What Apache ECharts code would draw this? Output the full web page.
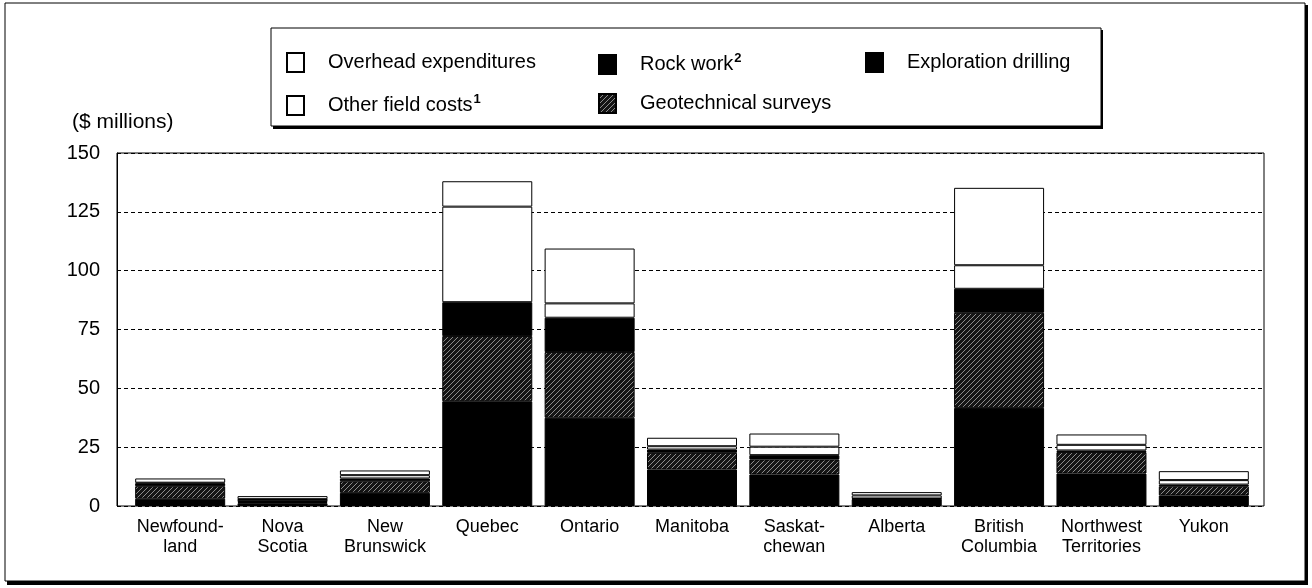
<!DOCTYPE html>
<html>
<head>
<meta charset="utf-8">
<script src="https://cdn.jsdelivr.net/npm/echarts@6/dist/echarts.min.js"></script>
<style>
  html, body { margin: 0; padding: 0; background: #fff; }
  #chart { width: 1312px; height: 588px; }
</style>
</head>
<body>
<div id="chart"></div>
<script>
// Exploration expenditures by province/territory, $ millions
const provinces = [
  "Newfound-\nland", "Nova\nScotia", "New\nBrunswick", "Quebec", "Ontario", "Manitoba",
  "Saskat-\nchewan", "Alberta", "British\nColumbia", "Northwest\nTerritories", "Yukon"
];
const explorationDrilling = [3.1, 1.2, 5.6, 44.5, 37.5, 15.5, 13.4, 2.8, 41.7, 13.8, 4.5];
const geotechnicalSurveys = [5.3, 0.5, 4.9, 27.7, 27.9, 7.1, 6.4, 0.2, 40.4, 9.1, 3.9];
const rockWork = [1.2, 1.0, 1.2, 14.4, 14.6, 1.4, 1.8, 0.2, 10.2, 0.7, 0.7];
const otherFieldCosts = [0.3, 0.2, 1.4, 40.6, 6.1, 1.4, 3.6, 1.3, 10.0, 2.4, 1.9];
const overheadExpenditures = [1.8, 1.3, 2.0, 10.8, 23.3, 3.6, 5.6, 1.4, 32.9, 4.4, 3.8];
const yTicks = [0, 25, 50, 75, 100, 125, 150];
const footnotes = { "Rock work": "2", "Other field costs": "1" };

const FONT = "'Liberation Sans', Arial, Helvetica, sans-serif";

function hatchPattern() {
  const c = document.createElement("canvas");
  c.width = 5;
  c.height = 5;
  const ctx = c.getContext("2d");
  ctx.fillStyle = "#151515";
  ctx.fillRect(0, 0, 5, 5);
  ctx.strokeStyle = "#8c8c8c";
  ctx.lineWidth = 1;
  ctx.beginPath();
  ctx.moveTo(0, 5);
  ctx.lineTo(5, 0);
  ctx.stroke();
  return { image: c, repeat: "repeat" };
}

const chart = echarts.init(document.getElementById("chart"), null, { renderer: "canvas" });

function barSeries(name, data, color) {
  return {
    name,
    type: "bar",
    stack: "total",
    data,
    xAxisIndex: 1,
    yAxisIndex: 1,
    barWidth: 90,
    itemStyle: { color, borderColor: "#000", borderWidth: 1 },
    emphasis: { disabled: true },
    animation: false
  };
}

const legendSpots = [
  { name: "Overhead expenditures", left: 286, top: 52 },
  { name: "Rock work", left: 598, top: 52 },
  { name: "Exploration drilling", left: 865, top: 52 },
  { name: "Other field costs", left: 286, top: 93 },
  { name: "Geotechnical surveys", left: 598, top: 93 }
];

const option = {
  backgroundColor: "#fff",
  animation: false,
  textStyle: { fontFamily: FONT, color: "#000" },
  title: {
    text: "($ millions)",
    left: 72,
    top: 112,
    padding: 0,
    textStyle: { fontFamily: FONT, fontSize: 21, fontWeight: "normal", color: "#000" }
  },
  graphic: [
    { type: "rect", shape: { x: 5, y: 3, width: 1300, height: 578 }, style: { fill: null, stroke: "#000", lineWidth: 1 } },
    { type: "rect", shape: { x: 7, y: 581, width: 1301, height: 4 }, style: { fill: "#000" } },
    { type: "rect", shape: { x: 1305, y: 5, width: 3, height: 580 }, style: { fill: "#000" } },
    { type: "rect", shape: { x: 271, y: 28, width: 830, height: 98 }, style: { fill: "#fff", stroke: "#000", lineWidth: 1 }, z: -1 },
    { type: "rect", shape: { x: 273, y: 126, width: 830, height: 3 }, style: { fill: "#000" } },
    { type: "rect", shape: { x: 1101, y: 30, width: 2, height: 99 }, style: { fill: "#000" } }
  ],
  legend: legendSpots.map((s) => ({
    data: [s.name],
    left: s.left,
    top: s.top,
    padding: 0,
    icon: "rect",
    itemWidth: 17,
    itemHeight: 19,
    selectedMode: false,
    formatter: (name) => footnotes[name] ? `{a|${name}}{s|${footnotes[name]}}` : `{a|${name}}`,
    textStyle: {
      fontFamily: FONT,
      fontSize: 20,
      color: "#000",
      padding: [0, 0, 0, 19],
      rich: {
        a: { fontFamily: FONT, fontSize: 20, lineHeight: 24, color: "#000" },
        s: { fontFamily: FONT, fontSize: 13, fontWeight: "bold", lineHeight: 10, padding: [0, 0, 12, 1], color: "#000" }
      }
    }
  })),
  grid: [
    { left: 117, right: 48, top: 153, bottom: 82, show: true, borderColor: "#000", borderWidth: 1, backgroundColor: "transparent" },
    { left: 129, right: 57, top: 153, bottom: 82 }
  ],
  xAxis: [
    { type: "category", gridIndex: 0, data: provinces, show: false },
    {
      type: "category",
      gridIndex: 1,
      data: provinces,
      axisLine: { show: false },
      axisTick: { show: false },
      axisLabel: { fontFamily: FONT, fontSize: 18, color: "#000", lineHeight: 20, margin: 11, interval: 0 }
    }
  ],
  yAxis: [
    {
      type: "value",
      gridIndex: 0,
      min: yTicks[0],
      max: yTicks[yTicks.length - 1],
      interval: 25,
      axisLine: { show: true, lineStyle: { color: "#000", width: 1 } },
      axisTick: { show: false },
      axisLabel: { fontFamily: FONT, fontSize: 20, color: "#000", margin: 17 },
      splitLine: { show: true, lineStyle: { color: "#000", type: [4, 3], width: 1 } }
    },
    { type: "value", gridIndex: 1, min: 0, max: 150, show: false, splitLine: { show: false } }
  ],
  series: [
    barSeries("Exploration drilling", explorationDrilling, "#000"),
    barSeries("Geotechnical surveys", geotechnicalSurveys, hatchPattern()),
    barSeries("Rock work", rockWork, "#000"),
    barSeries("Other field costs", otherFieldCosts, "#fff"),
    barSeries("Overhead expenditures", overheadExpenditures, "#fff")
  ]
};

chart.setOption(option);
</script>
</body>
</html>
